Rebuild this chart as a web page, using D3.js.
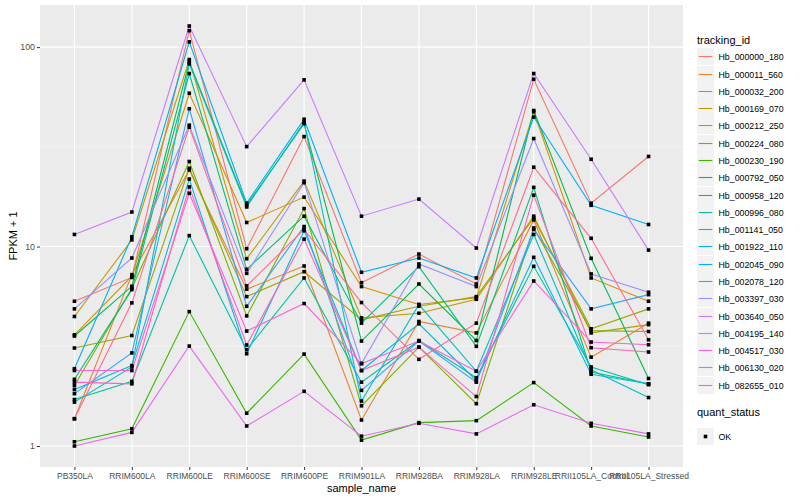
<!DOCTYPE html>
<html>
<head>
<meta charset="utf-8">
<script src="https://cdn.jsdelivr.net/npm/d3@7"></script>
<style>
  body { margin: 0; background: #fff; }
  text { font-family: "Liberation Sans", Arial, sans-serif; }
</style>
</head>
<body>
<div id="chart"></div>
<script>
// samples on the x axis
const samples = ["PB350LA", "RRIM600LA", "RRIM600LE", "RRIM600SE", "RRIM600PE", "RRIM901LA",
  "RRIM928BA", "RRIM928LA", "RRIM928LE", "RRII105LA_Control", "RRII105LA_Stressed"];

const trackingIds = ["Hb_000000_180", "Hb_000011_560", "Hb_000032_200", "Hb_000169_070",
  "Hb_000212_250", "Hb_000224_080", "Hb_000230_190", "Hb_000792_050", "Hb_000958_120",
  "Hb_000996_080", "Hb_001141_050", "Hb_001922_110", "Hb_002045_090", "Hb_002078_120",
  "Hb_003397_030", "Hb_003640_050", "Hb_004195_140", "Hb_004517_030", "Hb_006130_020",
  "Hb_082655_010"];

// FPKM + 1, one row per tracking id, one value per sample
const fpkm = [
  [5.32, 7.0, 120.9, 9.75, 35.6, 6.59, 9.17, 6.49, 69.0, 16.5, 28.3],
  [1.37, 7.23, 24.2, 6.11, 7.99, 1.35, 4.21, 3.69, 13.6, 2.79, 4.13],
  [3.61, 7.1, 58.7, 13.2, 17.7, 6.3, 5.12, 5.53, 47.4, 6.96, 5.32],
  [4.46, 10.8, 86.6, 8.69, 21.3, 4.39, 4.63, 5.44, 14.2, 3.69, 4.06],
  [3.10, 3.58, 24.7, 5.61, 7.48, 4.29, 5.02, 5.61, 13.9, 3.87, 4.87],
  [2.01, 6.18, 26.7, 4.49, 15.5, 1.59, 3.13, 1.63, 12.4, 3.79, 3.75],
  [1.05, 1.22, 4.72, 1.46, 2.89, 1.07, 1.31, 1.34, 2.08, 1.26, 1.11],
  [3.56, 6.32, 84.3, 16.1, 41.3, 3.36, 6.49, 3.38, 48.1, 8.73, 2.18],
  [2.16, 6.08, 73.7, 7.69, 14.2, 4.13, 7.93, 3.16, 19.8, 2.35, 2.05],
  [1.71, 2.11, 11.35, 3.04, 6.96, 2.09, 3.38, 2.20, 7.96, 2.49, 2.03],
  [1.66, 2.49, 82.4, 15.8, 42.0, 1.68, 5.12, 2.37, 11.5, 2.41, 1.75],
  [1.92, 2.53, 21.8, 2.90, 12.0, 2.39, 4.10, 2.13, 8.83, 2.29, 2.05],
  [2.44, 11.2, 106.2, 16.5, 43.5, 7.43, 8.76, 6.96, 44.6, 16.1, 12.9],
  [1.83, 2.93, 49.1, 5.02, 12.6, 1.90, 3.36, 2.09, 12.2, 4.87, 5.74],
  [4.87, 8.76, 40.6, 7.34, 20.9, 2.59, 8.18, 6.30, 34.8, 7.29, 5.9],
  [11.5, 14.9, 127.6, 31.7, 68.5, 14.2, 17.3, 9.83, 73.7, 27.4, 9.6],
  [1.0, 1.17, 3.17, 1.26, 1.88, 1.12, 1.30, 1.15, 1.61, 1.30, 1.15],
  [2.39, 2.39, 18.5, 3.77, 5.18, 2.59, 3.36, 2.37, 6.72, 3.32, 3.22],
  [2.09, 2.05, 19.9, 3.21, 10.9, 2.39, 3.13, 1.77, 18.1, 3.11, 2.96],
  [1.37, 5.22, 39.7, 6.35, 12.2, 5.24, 2.72, 4.13, 25.0, 11.0, 3.41]
];

const yTicks = [1, 10, 100];
const yMinor = [Math.sqrt(10), Math.sqrt(1000)];
const quantStatus = ["OK"];

// ggplot default hue palette
const colors = ["#F8766D", "#EA8331", "#D89000", "#C09B00", "#A3A500", "#7CAE00", "#39B600",
  "#00BB4E", "#00BF7D", "#00C1A3", "#00BFC4", "#00BAE0", "#00B0F6", "#35A2FF", "#9590FF",
  "#C77CFF", "#E76BF3", "#FA62DB", "#FF62BC", "#FF6C91"];

const W = 800, H = 500;
const panel = { left: 40, right: 683, top: 5, bottom: 467 };

const svg = d3.select('#chart').append('svg')
  .attr('width', W).attr('height', H);

// discrete x with ggplot-like expansion of 0.6 on each side
const x = d3.scalePoint().domain(samples)
  .range([panel.left, panel.right]).padding(0.6);

const allVals = fpkm.flat();
const lo = Math.log10(d3.min(allVals)), hi = Math.log10(d3.max(allVals));
const pad = (hi - lo) * 0.05;
const y = d3.scaleLog().domain([Math.pow(10, lo - pad), Math.pow(10, hi + pad)])
  .range([panel.bottom, panel.top]);

// panel background
svg.append('rect')
  .attr('x', panel.left).attr('y', panel.top)
  .attr('width', panel.right - panel.left).attr('height', panel.bottom - panel.top)
  .attr('fill', '#EBEBEB');

// grid
const grid = svg.append('g');
grid.selectAll('.minor').data(yMinor).join('line')
  .attr('x1', panel.left).attr('x2', panel.right)
  .attr('y1', d => y(d)).attr('y2', d => y(d))
  .attr('stroke', '#fff').attr('stroke-width', 0.55);
grid.selectAll('.majy').data(yTicks).join('line')
  .attr('x1', panel.left).attr('x2', panel.right)
  .attr('y1', d => y(d)).attr('y2', d => y(d))
  .attr('stroke', '#fff').attr('stroke-width', 1.1);
grid.selectAll('.majx').data(samples).join('line')
  .attr('x1', d => x(d)).attr('x2', d => x(d))
  .attr('y1', panel.top).attr('y2', panel.bottom)
  .attr('stroke', '#fff').attr('stroke-width', 1.1);

// lines
const line = d3.line()
  .x((d, i) => x(samples[i]))
  .y(d => y(d));

svg.append('g').selectAll('path').data(fpkm).join('path')
  .attr('d', d => line(d))
  .attr('fill', 'none')
  .attr('stroke', (d, i) => colors[i])
  .attr('stroke-width', 1.1);

// points
const pts = [];
fpkm.forEach(row => row.forEach((v, j) => pts.push({ s: samples[j], v: v })));
svg.append('g').selectAll('rect').data(pts).join('rect')
  .attr('x', d => x(d.s) - 1.8).attr('y', d => y(d.v) - 1.8)
  .attr('width', 3.6).attr('height', 3.6)
  .attr('fill', '#000');

// axes
const xAxis = svg.append('g')
  .attr('transform', `translate(0,${panel.bottom})`)
  .call(d3.axisBottom(x).tickSize(3).tickPadding(3));
const yAxis = svg.append('g')
  .attr('transform', `translate(${panel.left},0)`)
  .call(d3.axisLeft(y).tickValues(yTicks).tickFormat(d3.format('d')).tickSize(3).tickPadding(2));

[xAxis, yAxis].forEach(g => {
  g.select('.domain').remove();
  g.selectAll('.tick line').attr('stroke', '#333').attr('stroke-width', 1);
  g.selectAll('.tick text').attr('fill', '#4D4D4D')
    .style('font-size', '8.8px')
    .style('font-family', '"Liberation Sans", Arial, sans-serif');
});
xAxis.selectAll('.tick text').style('font-size', '8.5px');

// axis titles
svg.append('text')
  .attr('x', (panel.left + panel.right) / 2).attr('y', 492)
  .attr('text-anchor', 'middle')
  .style('font-size', '11px')
  .text('sample_name');

svg.append('text')
  .attr('transform', `translate(17,${(panel.top + panel.bottom) / 2}) rotate(-90)`)
  .attr('text-anchor', 'middle')
  .style('font-size', '11px')
  .text('FPKM + 1');

// legend: tracking_id
const lg = svg.append('g').attr('transform', 'translate(697,0)');
lg.append('text').attr('x', 0).attr('y', 44)
  .style('font-size', '11px').text('tracking_id');

const step = 17.28, first = 56.3;
const keys = lg.selectAll('.key').data(trackingIds).join('g')
  .attr('transform', (d, i) => `translate(0,${Math.round(first + i * step) + 0.5})`);
keys.append('rect')
  .attr('x', 0).attr('y', -8.5).attr('width', 17).attr('height', 17)
  .attr('fill', '#F2F2F2');
keys.append('line')
  .attr('x1', 1.7).attr('x2', 15.3).attr('y1', 0).attr('y2', 0)
  .attr('stroke', (d, i) => colors[i]).attr('stroke-width', 1.1);
keys.append('text')
  .attr('x', 21.5).attr('y', 3.1)
  .style('font-size', '8.8px').text(d => d);

// legend: quant_status
lg.append('text').attr('x', 0).attr('y', 416)
  .style('font-size', '11px').text('quant_status');
const qk = lg.selectAll('.qkey').data(quantStatus).join('g')
  .attr('transform', (d, i) => `translate(0,${436.5 + i * step})`);
qk.append('rect')
  .attr('x', 0).attr('y', -8.5).attr('width', 17).attr('height', 17)
  .attr('fill', '#F2F2F2');
qk.append('rect')
  .attr('x', 6.7).attr('y', -1.8).attr('width', 3.6).attr('height', 3.6)
  .attr('fill', '#000');
qk.append('text')
  .attr('x', 21.5).attr('y', 3.1)
  .style('font-size', '8.8px').text(d => d);
</script>
</body>
</html>
